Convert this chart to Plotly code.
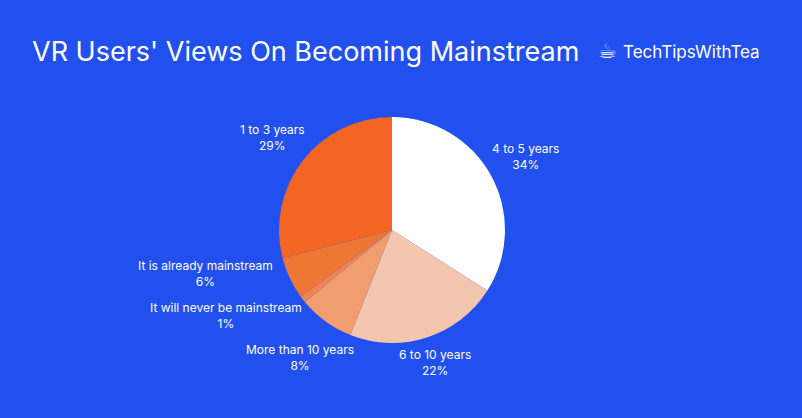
import math
import plotly.graph_objects as go

labels = ['4 to 5 years', '6 to 10 years', 'More than 10 years',
          'It will never be mainstream', 'It is already mainstream', '1 to 3 years']
values = [34, 22, 8, 1, 6, 29]
colors = ['#FFFFFF', '#F4C6AF', '#F19D6F', '#EE844F', '#EF7736', '#F26522']

title = "VR Users' Views On Becoming Mainstream"
brand = 'TechTipsWithTea'

bg = '#2150EE'
W, H = 802, 418
cx, cy, R = 392, 230, 113   # pie centre / radius in px

fig = go.Figure()
fig.add_trace(go.Pie(
    labels=labels, values=values, sort=False, direction='clockwise', rotation=0,
    marker=dict(colors=colors, line=dict(width=0)),
    textinfo='none',
    showlegend=False,
    hoverinfo='label+percent',
    domain=dict(x=[(cx - R) / W, (cx + R) / W], y=[1 - (cy + R) / H, 1 - (cy - R) / H]),
))

# outside labels: placed from slice mid-angles, pushed apart where they collide
total = sum(values)
char_w, half_h, gap = 6.0, 13, 2
cum = 0
pts = []
for lab, val in zip(labels, values):
    ang = (cum + val / 2) / total * 2 * math.pi
    cum += val
    s, c = math.sin(ang), math.cos(ang)
    hw = len(lab) * char_w / 2
    d = R + gap + hw * abs(s) + half_h * abs(c)
    pts.append([cx + d * s, cy - d * c, s, lab, val, hw])

left_low = sorted([p for p in pts if p[2] < 0 and p[1] > cy], key=lambda p: -p[1])
for prev, cur in zip(left_low, left_low[1:]):
    if cur[1] > prev[1] - 42:
        cur[1] = prev[1] - 42
        dy = abs(cur[1] - cy)
        edge = math.sqrt(max((R + gap) ** 2 - dy ** 2, 0))
        cur[0] = min(cur[0], cx - edge - cur[5] - 8)

for x, y, s, lab, val, hw in pts:
    fig.add_annotation(text='%s<br>%d%%' % (lab, round(val / total * 100)),
                       x=x / W, y=1 - y / H, xref='paper', yref='paper', showarrow=False,
                       xanchor='center', yanchor='middle', align='center',
                       font=dict(size=12, color='white', family='Inter'))

fig.update_layout(
    width=W, height=H,
    paper_bgcolor=bg, plot_bgcolor=bg,
    margin=dict(l=0, r=0, t=0, b=0),
    font=dict(family='Inter', color='white'),
)
fig.add_annotation(text=title, x=30 / W, y=1 - 52 / H, xref='paper', yref='paper',
                   showarrow=False, xanchor='left', yanchor='middle',
                   font=dict(size=27, color='white', family='Inter'))
fig.add_annotation(text='\u2615', x=607 / W, y=1 - 51 / H, xref='paper', yref='paper',
                   showarrow=False, xanchor='center', yanchor='middle',
                   font=dict(size=21, color='white', family='DejaVu Sans'))
fig.add_annotation(text=brand, x=621 / W, y=1 - 52 / H, xref='paper', yref='paper',
                   showarrow=False, xanchor='left', yanchor='middle',
                   font=dict(size=17, color='white', family='Inter'))

fig.write_html('out.html', config=dict(displayModeBar=False),
               post_script="document.body.style.margin='0';document.body.style.background='%s';" % bg)
